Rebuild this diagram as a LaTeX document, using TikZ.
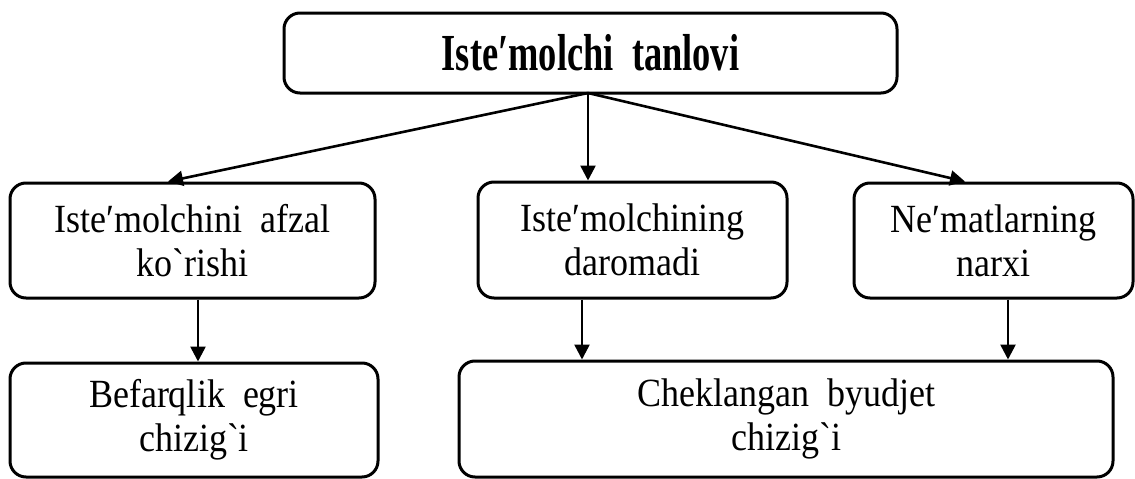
\documentclass[tikz,border=0pt]{standalone}
\usepackage{fontspec}
\usetikzlibrary{arrows.meta}
\newfontfamily\regfont[FakeStretch=0.9,Ligatures=TeXOff]{Liberation Serif}
\newfontfamily\titfont[FakeStretch=0.7,Ligatures=TeXOff]{Liberation Serif}
\tikzset{
  box/.style={draw=black, line width=3pt, rounded corners=16pt, align=center,
    inner sep=0pt, font=\regfont\fontsize{40}{44}\selectfont},
  titlebox/.style={box, font=\titfont\bfseries\fontsize{52}{56}\selectfont},
  arr/.style={line width=2.6pt, -{Triangle[length=15pt,width=15pt]}}
}
\begin{document}
\begin{tikzpicture}[x=1pt,y=-1pt]
\useasboundingbox (0,0) rectangle (1135,479);
\node[titlebox, minimum width=613pt, minimum height=80pt] (top) at (590.5,53) {Iste′molchi\ \ tanlovi};
\node[box, minimum width=365pt, minimum height=115pt] (ml) at (192.5,240.5) {Iste′molchini\ \ afzal\\ko`rishi};
\node[box, minimum width=309pt, minimum height=116pt] (mm) at (632.5,240) {Iste′molchining\\daromadi};
\node[box, minimum width=279pt, minimum height=115pt] (mr) at (993.5,240.5) {Ne′matlarning\\narxi};
\node[box, minimum width=368pt, minimum height=114pt] (bl) at (194,420) {Befarqlik\ \ egri\\chizig`i};
\node[box, minimum width=654pt, minimum height=116pt] (br) at (786,419) {Cheklangan\ \ byudjet\\chizig`i};
\coordinate (J) at (588,93);
\coordinate (xa) at (198,0);
\coordinate (xb) at (582,0);
\coordinate (xc) at (1008,0);
\draw[arr] (J) -- ([xshift=-24.5pt]ml.north);
\draw[arr] (J) -- (mm.north -| J);
\draw[arr] (J) -- ([xshift=-28.5pt]mr.north);
\draw[arr] (ml.south -| xa) -- (bl.north -| xa);
\draw[arr] (mm.south -| xb) -- (br.north -| xb);
\draw[arr] (mr.south -| xc) -- (br.north -| xc);
\end{tikzpicture}
\end{document}
